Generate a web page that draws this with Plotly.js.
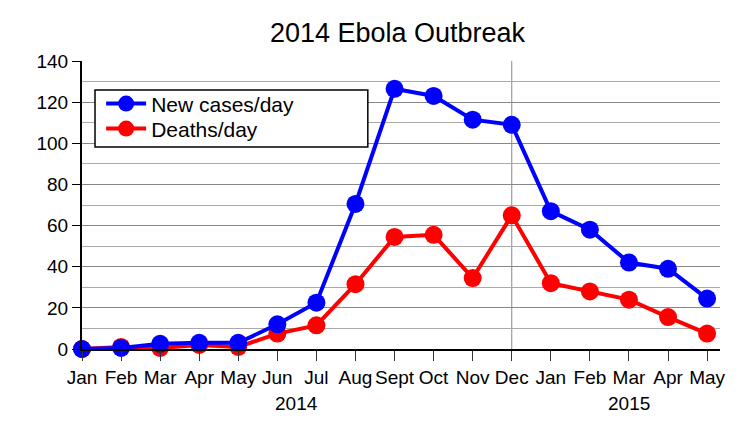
<!DOCTYPE html>
<html>
<head>
<meta charset="utf-8">
<script src="https://cdn.plot.ly/plotly-3.0.1.min.js"></script>
<style>html,body{margin:0;padding:0;background:#fff}#chart{width:750px;height:440px}</style>
</head>
<body>
<div id="chart"></div>
<script>
const months = ["Jan","Feb","Mar","Apr","May","Jun","Jul","Aug","Sept","Oct","Nov","Dec","Jan","Feb","Mar","Apr","May"];
const newCases = [0, 0.5, 2.5, 3, 3, 12, 22.5, 70.5, 126.5, 123, 111.5, 109, 67, 58, 42, 39, 24.5];
const deaths = [0, 1, 0.5, 2, 1, 7.5, 11.5, 31.5, 54.5, 55.5, 34.5, 65, 32, 28, 24, 15.5, 7.5];
const years = ["2014", "2015"];
const yearPos = [5.5, 14];
const xIdx = months.map((m, i) => i);

const traces = [
  {x: xIdx, y: deaths, name: "Deaths/day", mode: "lines+markers", cliponaxis: false, legend: "legend2",
   line: {color: "#ff0000", width: 4}, marker: {color: "#ff0000", size: 18}},
  {x: xIdx, y: newCases, name: "New cases/day", mode: "lines+markers", cliponaxis: false, legend: "legend",
   line: {color: "#0000ff", width: 4}, marker: {color: "#0000ff", size: 18}}
];

const legendBase = {xanchor: "left", yanchor: "middle", borderwidth: 0,
  bgcolor: "rgba(255,255,255,0)", font: {size: 21}, itemwidth: 40};

const layout = {
  width: 750, height: 440,
  margin: {l: 82, r: 30, t: 61, b: 91},
  paper_bgcolor: "#fff", plot_bgcolor: "#fff",
  font: {family: "Liberation Sans, Arial, sans-serif", color: "#000", size: 19},
  title: {text: "2014 Ebola Outbreak", font: {size: 27, color: "#000"}, x: 0.53, xanchor: "center", y: 0.925, yanchor: "middle"},
  showlegend: true,
  legend: Object.assign({x: 0.03, y: 0.851}, legendBase),
  legend2: Object.assign({x: 0.03, y: 0.764}, legendBase),
  xaxis: {range: [0, 16.33], tickmode: "array", tickvals: xIdx, ticktext: months,
          ticks: "outside", ticklen: 10, tickwidth: 1, tickcolor: "#333",
          showgrid: false, zeroline: false, showline: true, linecolor: "#000", linewidth: 2,
          tickfont: {size: 19}, fixedrange: true},
  yaxis: {range: [0, 140], dtick: 20, ticks: "outside", ticklen: 8, tickwidth: 1, tickcolor: "#000",
          showgrid: true, gridcolor: "#888", gridwidth: 1,
          minor: {dtick: 10, showgrid: true, gridcolor: "#aaa", gridwidth: 1},
          zeroline: false, showline: true, linecolor: "#000", linewidth: 2,
          tickfont: {size: 19}, fixedrange: true},
  shapes: [
    {type: "line", xref: "x", yref: "paper", x0: 11, x1: 11, y0: 0, y1: 1,
     line: {color: "#888", width: 1}, layer: "below"},
    {type: "rect", xref: "paper", yref: "paper", x0: 0.0204, x1: 0.448, y0: 0.701, y1: 0.899,
     fillcolor: "#fff", line: {color: "#000", width: 1.5}, layer: "above"}
  ],
  annotations: years.map((t, i) => ({text: t, x: yearPos[i], xref: "x", y: -0.19, yref: "paper",
            showarrow: false, font: {size: 19}, yanchor: "middle"}))
};

Plotly.newPlot("chart", traces, layout, {displayModeBar: false, staticPlot: true});
</script>
</body>
</html>
